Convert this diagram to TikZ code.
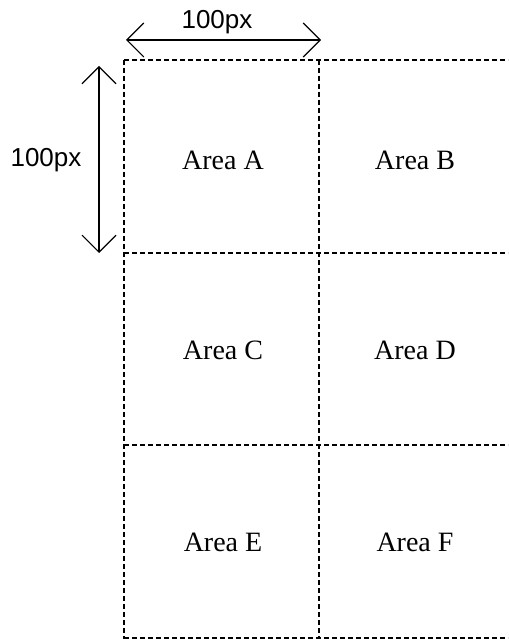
\documentclass[tikz,border=0pt]{standalone}
\usepackage{fontspec}
\setmainfont{Liberation Serif}
\newfontfamily\dimfont{Liberation Sans}
\usetikzlibrary{arrows.meta}

\begin{document}
\begin{tikzpicture}[x=1pt,y=-1pt]
\tikzstyle{every node} = [inner sep=0pt]
\tikzstyle{area} = [font=\fontsize{28}{30}\selectfont]
\tikzstyle{dimlabel} = [font=\dimfont\fontsize{26}{28}\selectfont]
\tikzstyle{gridline} = [line width=1.3pt, dash pattern=on 5pt off 3pt]
\tikzstyle{dimline} = [line width=1.1pt, {Straight Barb[length=17pt,width=34pt]}-{Straight Barb[length=17pt,width=34pt]}]
\useasboundingbox (0,0) rectangle (508,639);
\clip (0,0) rectangle (508,639);

% grid of areas
\draw[gridline] (124,60) -- (508,60);
\draw[gridline] (124,253) -- (508,253);
\draw[gridline] (124,445) -- (508,445);
\draw[gridline] (124,638) -- (508,638);
\draw[gridline] (124,60) -- (124,639);
\draw[gridline] (319,60) -- (319,639);

\node[area] (areaA) at (223,160) {Area A};
\node[area] (areaB) at (415,160) {Area B};
\node[area] (areaC) at (223,350) {Area C};
\node[area] (areaD) at (415,350) {Area D};
\node[area] (areaE) at (223,542) {Area E};
\node[area] (areaF) at (415,542) {Area F};

% dimensions
\node[dimlabel] (widthlabel) at (217,22) {100px};
\node[dimlabel] (heightlabel) at (46,160) {100px};
\coordinate (wleft) at (126,40);
\coordinate (wright) at (321,40);
\coordinate (htop) at (99,66);
\coordinate (hbottom) at (99,253);
\draw[dimline] (wleft) -- (wright);
\draw[dimline] (htop) -- (hbottom);
\end{tikzpicture}
\end{document}
